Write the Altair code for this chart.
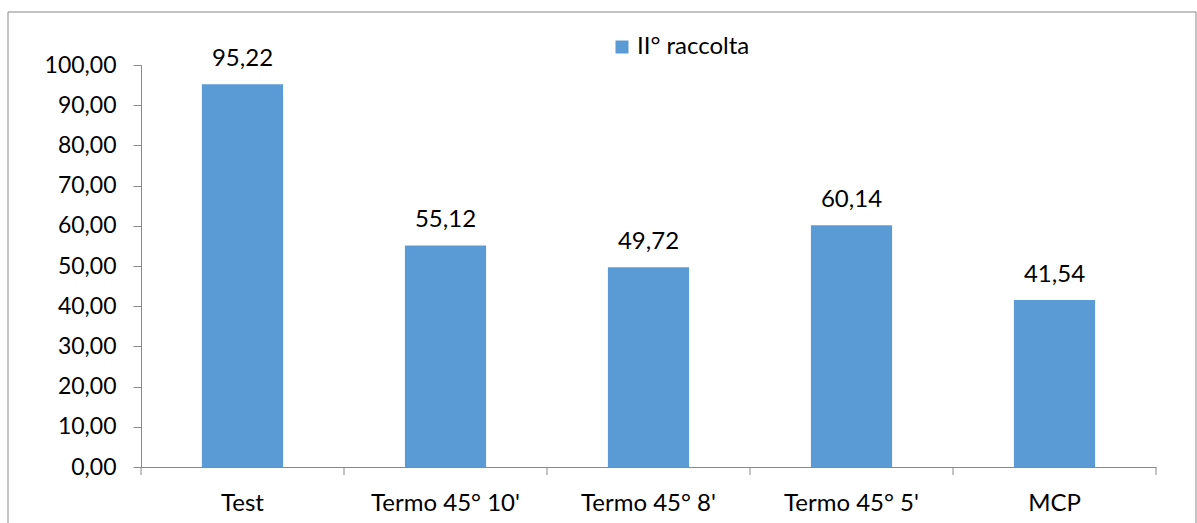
import altair as alt
import pandas as pd

# Values per treatment, second harvest
categories = ["Test", "Termo 45° 10'", "Termo 45° 8'", "Termo 45° 5'", "MCP"]
values = [95.22, 55.12, 49.72, 60.14, 41.54]
series_name = "II° raccolta"
y_ticks = [0, 10, 20, 30, 40, 50, 60, 70, 80, 90, 100]

df = pd.DataFrame({"cat": categories, "val": values, "series": [series_name] * len(categories)})

FONT = "Lato"
GRAY = "#898989"
BLUE = "#5B9BD5"
PLOT_W = 1015
PLOT_H = 402
STEP = PLOT_W / len(categories)

x_enc = alt.X(
    "cat:N",
    sort=categories,
    title=None,
    scale=alt.Scale(paddingInner=0.6, paddingOuter=0.3),
    axis=alt.Axis(
        labelAngle=0,
        labelFont=FONT,
        labelFontSize=24,
        labelColor="black",
        labelPadding=43,
        labelBaseline="alphabetic",
        ticks=False,
        domainColor=GRAY,
        grid=False,
    ),
)

y_enc = alt.Y(
    "val:Q",
    title=None,
    scale=alt.Scale(domain=[0, 100], nice=False, zero=True),
    axis=alt.Axis(
        values=y_ticks,
        labelExpr="replace(format(datum.value, '.2f'), '.', ',')",
        labelFont=FONT,
        labelFontSize=23,
        labelColor="black",
        labelPadding=17,
        tickSize=8,
        tickColor=GRAY,
        domainColor=GRAY,
        grid=False,
    ),
)

base = alt.Chart(df)

bars = base.mark_bar(color=BLUE).encode(
    x=x_enc,
    y=y_enc,
    color=alt.Color(
        "series:N",
        scale=alt.Scale(range=[BLUE]),
        legend=alt.Legend(
            title=None,
            orient="none",
            legendX=469,
            legendY=-30,
            symbolType="square",
            symbolSize=169,
            symbolStrokeWidth=0,
            labelFont=FONT,
            labelFontSize=24,
            labelColor="black",
            labelOffset=3,
            padding=0,
        ),
    ),
)

labels = base.transform_calculate(
    label="replace(format(datum.val, '.2f'), '.', ',')"
).mark_text(
    baseline="alphabetic", dy=-18, font=FONT, fontSize=24, color="black"
).encode(
    x=alt.X("cat:N", sort=categories),
    y=alt.Y("val:Q"),
    text="label:N",
)

# Category-boundary ticks below the x axis
left_ticks = base.mark_rule(color=GRAY, strokeWidth=1, xOffset=-STEP / 2).encode(
    x=alt.X("cat:N", sort=categories),
    y=alt.value(PLOT_H),
    y2=alt.value(PLOT_H + 8),
)
right_tick = base.transform_filter(
    alt.datum.cat == categories[-1]
).mark_rule(color=GRAY, strokeWidth=1, xOffset=STEP / 2).encode(
    x=alt.X("cat:N", sort=categories),
    y=alt.value(PLOT_H),
    y2=alt.value(PLOT_H + 8),
)

# Outer chart frame
frame = alt.Chart(pd.DataFrame({"k": [0]})).mark_rect(
    fillOpacity=0, stroke=GRAY, strokeWidth=1
).encode(
    x=alt.value(-133), x2=alt.value(1055), y=alt.value(-53), y2=alt.value(520)
)

chart = (
    alt.layer(frame, bars, labels, left_ticks, right_tick)
    .properties(
        width=PLOT_W,
        height=PLOT_H,
        autosize=alt.AutoSizeParams(type="none"),
        padding={"left": 141, "top": 65, "right": 41, "bottom": 56},
        background="white",
    )
    .configure_view(stroke=None)
)

chart.save("out.html", embed_options={"renderer": "svg", "actions": False})
